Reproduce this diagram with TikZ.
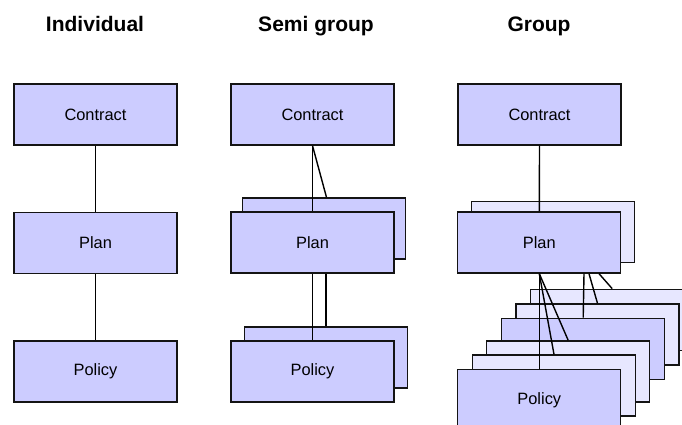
\documentclass[tikz,border=0pt]{standalone}
\usepackage{fontspec}
\setmainfont{Liberation Sans}
\definecolor{boxdark}{RGB}{204,204,255}
\definecolor{boxlight}{RGB}{231,231,255}
\definecolor{edge}{RGB}{20,20,20}
\begin{document}
\begin{tikzpicture}[x=1pt,y=-1pt,
  box/.style={draw=edge,line width=1.3pt,fill=boxdark,minimum width=163pt,
    minimum height=61pt,inner sep=0pt,font=\fontsize{16.4}{19}\selectfont},
  backbox/.style={box,fill=boxlight},
  title/.style={anchor=base,font=\fontsize{21}{25}\selectfont\bfseries},
  link/.style={line width=1.4pt,black}]
\useasboundingbox (0,0) rectangle (682,425);
\clip (0,0) rectangle (682,425);

% column headings
\node[title] (tInd) at (95,32) {Individual};
\node[title] (tSemi) at (316,32) {Semi group};
\node[title] (tGrp) at (539,32) {Group};

% individual
\node[box] (ic) at (95.5,114.5) {Contract};
\node[box] (ip) at (95.5,243) {Plan};
\node[box] (io) at (95.5,371.5) {Policy};

% semi group
\node[box] (sc) at (312.5,114.5) {Contract};
\node[box] (sp2) at (324,228.5) {};
\node[box] (sp) at (312.5,242.5) {Plan};
\node[box] (so2) at (325.8,357.5) {};
\node[box] (so) at (312.5,371.5) {Policy};

% group
\node[box] (gc) at (539.5,114.5) {Contract};
\node[backbox] (gp2) at (552.8,232) {};
\node[box] (gp) at (539.3,242.5) {Plan};
\node[backbox] (g1) at (612.2,319.8) {};
\node[backbox] (g2) at (597.5,334.5) {};
\node[box] (g3) at (583.2,348.8) {};
\node[backbox] (g4) at (568.2,371.5) {};
\node[backbox] (g5) at (554,385.5) {};
\node[box] (g6) at (539.3,399.8) {Policy};

% connectors
\draw[link] (ic) -- (ip);
\draw[link] (ip) -- (io);

\draw[link] (sc.south) -- (sp.north);
\draw[link] (sc.south) -- ([xshift=2.5pt]sp2.north);
\draw[link] (sp.south) -- (so.north);
\draw[link] (sp.south -| so2.north) -- (so2.north);

\draw[link] (gc.south) -- (gp.north);
\draw[link] (gp.south) -- (g6.north);
\draw[link] (gp.south) -- (g5.north);
\draw[link] (gp.south) -- (g4.north);
\draw[link] ([xshift=44.7pt]gp.south) -- (g3.north);
\draw[link] ([xshift=49.7pt]gp.south) -- (g2.north);
\draw[link] ([xshift=59.7pt]gp.south) -- (g1.north);
\end{tikzpicture}
\end{document}
